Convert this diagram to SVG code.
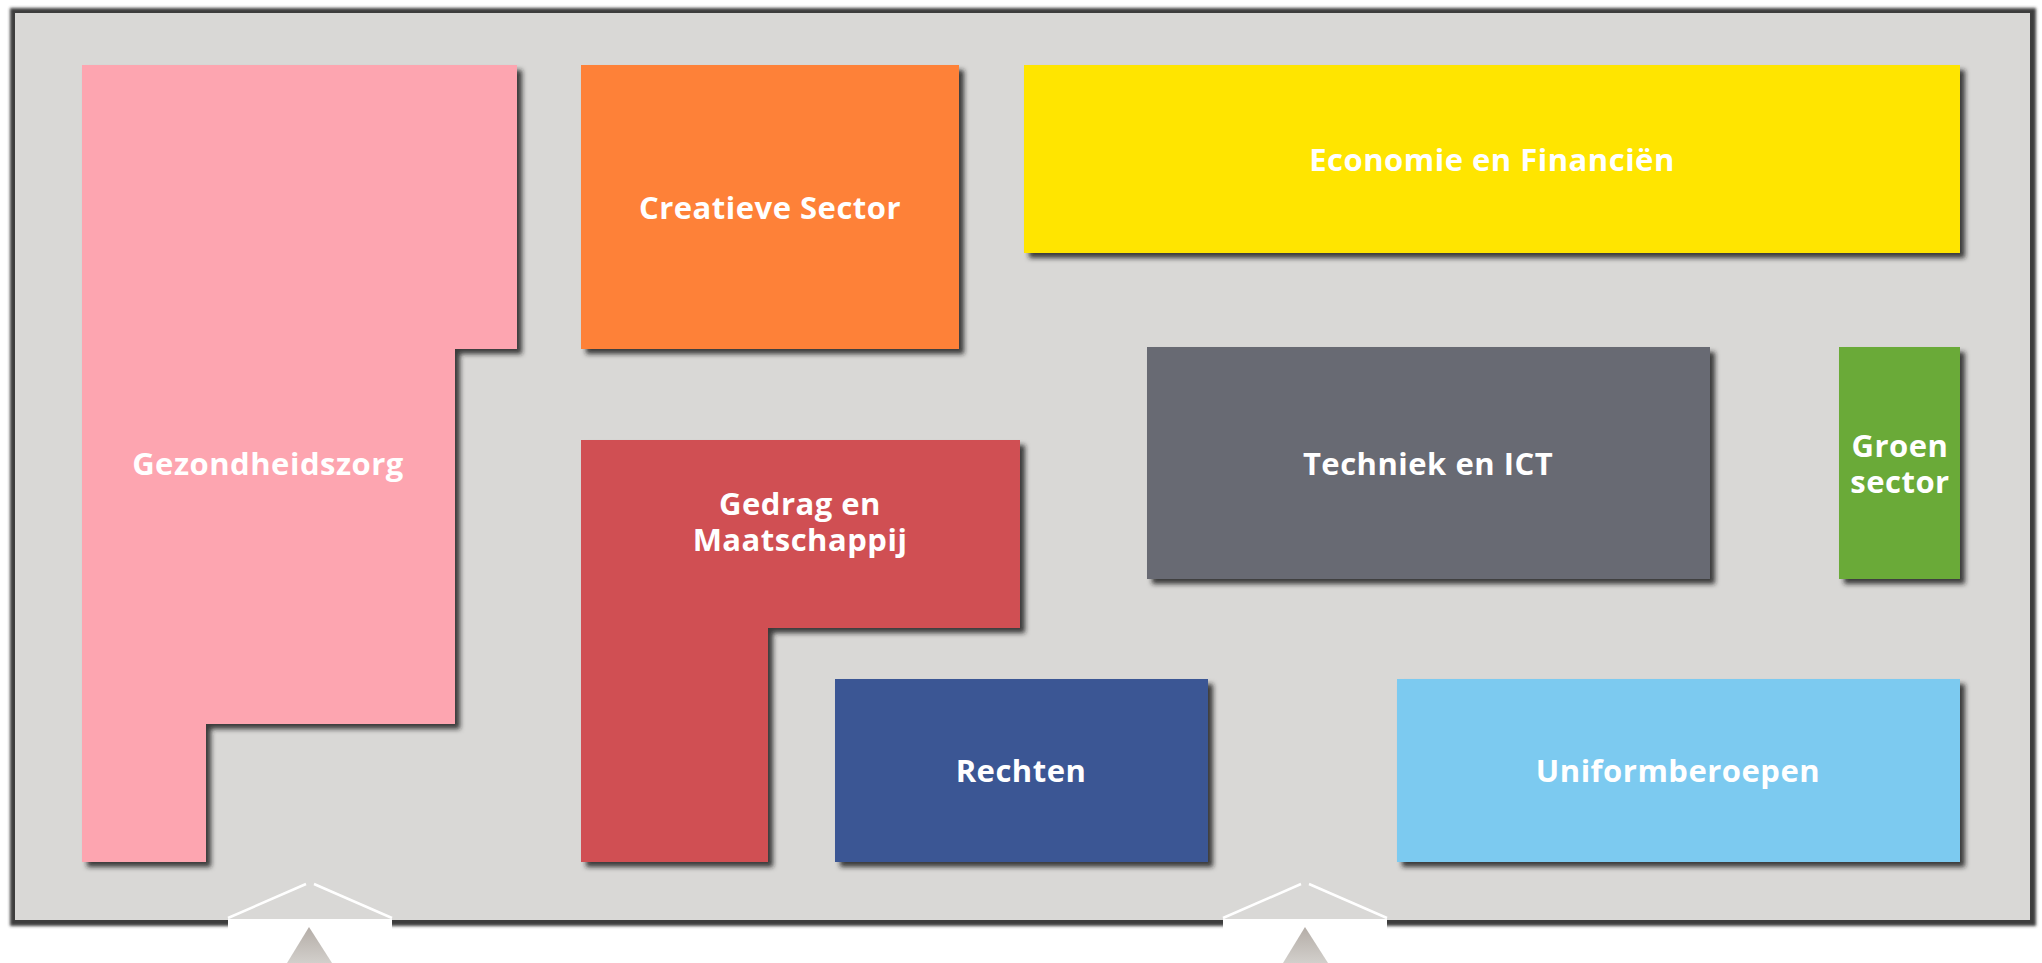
<svg xmlns="http://www.w3.org/2000/svg" width="2042" height="963" viewBox="0 0 2042 963">
  <defs>
    <filter id="frameShadow" x="-5%" y="-5%" width="110%" height="110%">
      <feGaussianBlur stdDeviation="1.6"/>
    </filter>
    <filter id="roomShadow" x="-10%" y="-10%" width="125%" height="125%">
      <feDropShadow dx="5" dy="5" stdDeviation="2.6" flood-color="#1a1a1a" flood-opacity="0.85"/>
    </filter>
    <linearGradient id="arrowGrad" x1="0" y1="0" x2="0" y2="1">
      <stop offset="0" stop-color="#b4ada7"/>
      <stop offset="1" stop-color="#d2cfcb"/>
    </linearGradient>
    <style>
      .room { filter: url(#roomShadow); }
      .lbl { font-family: "Open Sans", Lato, "Liberation Sans", sans-serif; font-weight: 700; font-size: 31px; letter-spacing: 0.5px; fill: #ffffff; text-anchor: middle; }
      .door { fill: none; stroke: #ffffff; stroke-width: 2.5; }
      .arrow { fill: url(#arrowGrad); }
    </style>
  </defs>

  <rect x="0" y="0" width="2042" height="963" fill="#ffffff"/>

  <g id="frame">
    <rect x="10" y="8" width="2026" height="918" fill="#3e3e3e" filter="url(#frameShadow)"/>
    <rect x="15" y="13" width="2015" height="907" fill="#d9d8d6"/>
  </g>

  <g id="gezondheidszorg">
    <polygon class="room" points="82,65 517,65 517,349 455,349 455,724 206,724 206,862 82,862" fill="#fda5b0"/>
    <text class="lbl" x="268" y="475">Gezondheidszorg</text>
  </g>

  <g id="creatieve-sector">
    <rect class="room" x="581" y="65" width="378" height="284" fill="#fe8137"/>
    <text class="lbl" x="770" y="219">Creatieve Sector</text>
  </g>

  <g id="economie">
    <rect class="room" x="1024" y="65" width="936" height="188" fill="#ffe500"/>
    <text class="lbl" x="1492" y="171">Economie en Financiën</text>
  </g>

  <g id="techniek">
    <rect class="room" x="1147" y="347" width="563" height="232" fill="#686b73"/>
    <text class="lbl" x="1428" y="475">Techniek en ICT</text>
  </g>

  <g id="groen">
    <rect class="room" x="1839" y="347" width="121" height="232" fill="#6aaa37"/>
    <text class="lbl" x="1900" y="457"><tspan x="1900" y="457">Groen</tspan><tspan x="1900" y="493">sector</tspan></text>
  </g>

  <g id="gedrag">
    <polygon class="room" points="581,440 1020,440 1020,628 768,628 768,862 581,862" fill="#d04f52"/>
    <text class="lbl" x="800" y="515"><tspan x="800" y="515">Gedrag en</tspan><tspan x="800" y="551">Maatschappij</tspan></text>
  </g>

  <g id="rechten">
    <rect class="room" x="835" y="679" width="373" height="183" fill="#3a5794"/>
    <text class="lbl" x="1021" y="782">Rechten</text>
  </g>

  <g id="uniformberoepen">
    <rect class="room" x="1397" y="679" width="563" height="183" fill="#7bcaf0"/>
    <text class="lbl" x="1678" y="782">Uniformberoepen</text>
  </g>

  <g id="entrance-left">
    <rect x="228" y="919" width="164" height="44" fill="#ffffff"/>
    <polyline class="door" points="228,918 306,884"/>
    <polyline class="door" points="314,884 392,918"/>
    <polygon class="arrow" points="309,927 287,963 332,963"/>
  </g>

  <g id="entrance-right">
    <rect x="1223" y="919" width="164" height="44" fill="#ffffff"/>
    <polyline class="door" points="1223,918 1301,884"/>
    <polyline class="door" points="1309,884 1387,918"/>
    <polygon class="arrow" points="1305,927 1283,963 1328,963"/>
  </g>
</svg>
